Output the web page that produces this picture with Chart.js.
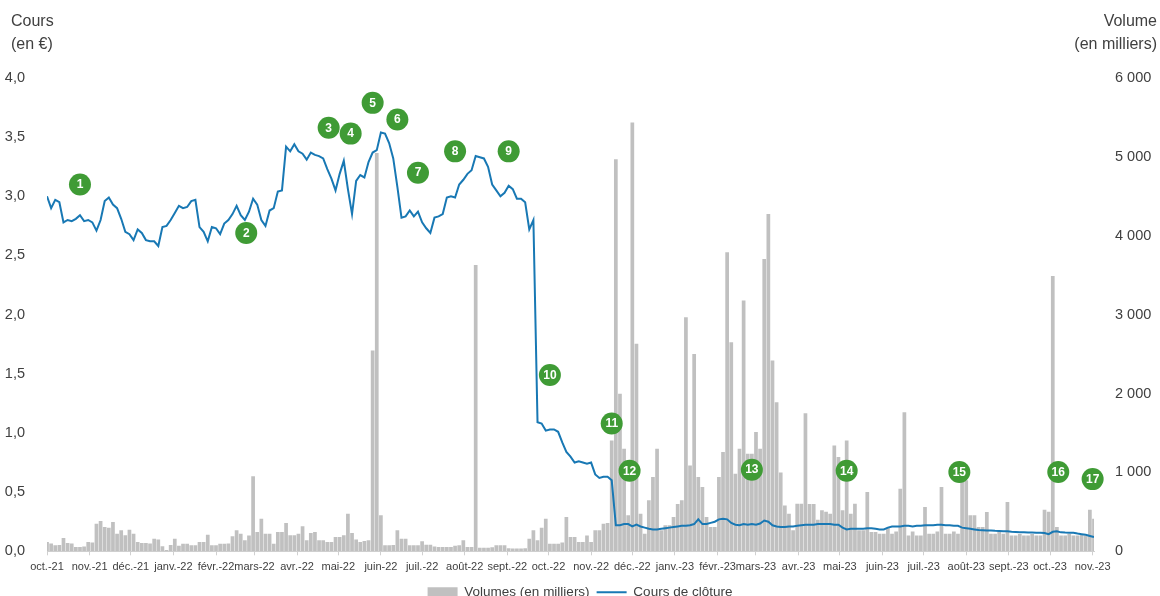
<!DOCTYPE html>
<html lang="fr">
<head>
<meta charset="utf-8">
<script src="https://cdn.jsdelivr.net/npm/chart.js@4.4.1/dist/chart.umd.min.js"></script>
<style>
  html, body { margin: 0; padding: 0; background: #fff; }
  #wrap { width: 1160px; height: 596px; }
</style>
</head>
<body>
<div id="wrap"><canvas id="coursChart" width="1160" height="596"></canvas></div>
<script>
/* =========================
   DATA
========================= */

// one sample every 3 calendar days, starting 1 Oct 2021
const stepDays = 3;

// cours de clôture (en €)
const closePrice = [
  3.00, 2.90, 2.97, 2.95, 2.78, 2.80, 2.79, 2.81, 2.84, 2.79,
  2.80, 2.78, 2.71, 2.80, 2.96, 2.99, 2.93, 2.90, 2.81, 2.70,
  2.68, 2.63, 2.72, 2.69, 2.63, 2.62, 2.62, 2.58, 2.74, 2.75,
  2.80, 2.86, 2.92, 2.90, 2.91, 2.96, 2.97, 2.74, 2.70, 2.62,
  2.74, 2.73, 2.68, 2.77, 2.80, 2.85, 2.92, 2.84, 2.80, 2.87,
  2.98, 2.93, 2.80, 2.75, 2.88, 2.90, 3.04, 3.05, 3.42, 3.38,
  3.44, 3.38, 3.36, 3.31, 3.37, 3.35, 3.34, 3.32, 3.23, 3.15,
  3.05, 3.19, 3.30, 3.06, 2.85, 3.13, 3.18, 3.16, 3.29, 3.37,
  3.39, 3.54, 3.53, 3.45, 3.32, 3.08, 2.82, 2.83, 2.88, 2.83,
  2.87, 2.78, 2.73, 2.69, 2.82, 2.83, 2.85, 2.99, 3.00, 2.99,
  3.10, 3.14, 3.19, 3.22, 3.34, 3.33, 3.32, 3.25, 3.10, 3.05,
  3.00, 3.03, 3.09, 3.06, 2.98, 2.98, 2.95, 2.72, 2.80, 1.09,
  1.08, 1.02, 1.03, 1.03, 1.01, 0.92, 0.84, 0.80, 0.75, 0.76,
  0.75, 0.74, 0.75, 0.65, 0.62, 0.63, 0.63, 0.60, 0.22, 0.22,
  0.23, 0.23, 0.21, 0.225, 0.21, 0.20, 0.19, 0.185, 0.185, 0.19,
  0.195, 0.20, 0.205, 0.21, 0.215, 0.215, 0.22, 0.23, 0.27, 0.23,
  0.23, 0.24, 0.25, 0.27, 0.275, 0.27, 0.24, 0.225, 0.22, 0.23,
  0.225, 0.23, 0.225, 0.235, 0.26, 0.25, 0.22, 0.21, 0.205, 0.205,
  0.21, 0.21, 0.215, 0.22, 0.225, 0.225, 0.225, 0.23, 0.23, 0.23,
  0.23, 0.225, 0.225, 0.20, 0.185, 0.19, 0.19, 0.19, 0.19, 0.195,
  0.195, 0.19, 0.185, 0.185, 0.20, 0.21, 0.21, 0.21, 0.215, 0.215,
  0.21, 0.215, 0.215, 0.22, 0.22, 0.22, 0.225, 0.225, 0.22, 0.22,
  0.215, 0.215, 0.20, 0.195, 0.19, 0.185, 0.18, 0.178, 0.176, 0.175,
  0.173, 0.172, 0.17, 0.17, 0.166, 0.163, 0.16, 0.16, 0.158, 0.158,
  0.157, 0.157, 0.155, 0.145, 0.165, 0.17, 0.16, 0.158, 0.157, 0.157,
  0.15, 0.145, 0.14, 0.13, 0.12
];

// volumes (en milliers)
const volumes = [
  118, 100, 76, 80, 169, 105, 100, 55, 55, 60,
  118, 110, 350, 384, 308, 300, 371, 224, 266, 203,
  274, 224, 118, 105, 105, 100, 160, 150, 63, 15,
  80, 160, 70, 97, 97, 76, 76, 118, 118, 211,
  76, 76, 97, 97, 100, 190, 266, 224, 139, 200,
  950, 245, 413, 224, 224, 97, 245, 245, 359, 203,
  203, 224, 316, 139, 232, 245, 139, 139, 118, 118,
  181, 181, 203, 477, 232, 150, 118, 130, 139, 2545,
  5050, 456, 76, 76, 80, 266, 160, 160, 76, 76,
  76, 127, 84, 84, 60, 55, 55, 55, 55, 70,
  76, 139, 55, 55, 3630, 46, 46, 46, 50, 76,
  76, 76, 40, 34, 34, 34, 40, 160, 266, 139,
  300, 413, 97, 97, 97, 110, 435, 180, 180, 118,
  118, 200, 118, 266, 266, 350, 359, 1405, 4970, 1996,
  1300, 456, 5435, 2630, 477, 224, 646, 941, 1300, 266,
  329, 329, 435, 600, 646, 2967, 1089, 2502, 941, 814,
  435, 308, 308, 941, 1258, 3790, 2650, 983, 1300, 3178,
  1236, 1236, 1511, 1300, 3705, 4275, 2418, 1890, 1000, 582,
  477, 266, 603, 603, 1750, 600, 600, 400, 520, 500,
  477, 1342, 1194, 520, 1405, 477, 603, 266, 266, 751,
  245, 245, 224, 224, 300, 224, 250, 793, 1764, 200,
  250, 200, 200, 561, 224, 224, 250, 814, 224, 224,
  250, 224, 900, 900, 456, 456, 308, 308, 498, 224,
  224, 250, 224, 625, 200, 200, 220, 200, 200, 220,
  200, 200, 528, 500, 3490, 308, 200, 200, 220, 200,
  200, 210, 200, 528, 414
];

// month ticks (days since 1 Oct 2021)
const monthDays = [0, 31, 61, 92, 123, 151, 182, 212, 243, 273, 304, 335, 365,
  396, 426, 457, 488, 516, 547, 577, 608, 638, 669, 700, 730, 761];
const monthLabels = ["oct.-21", "nov.-21", "déc.-21", "janv.-22", "févr.-22", "mars-22",
  "avr.-22", "mai-22", "juin-22", "juil.-22", "août-22", "sept.-22", "oct.-22",
  "nov.-22", "déc.-22", "janv.-23", "févr.-23", "mars-23", "avr.-23", "mai-23",
  "juin-23", "juil.-23", "août-23", "sept.-23", "oct.-23", "nov.-23"];

// numbered events: day and price level of each marker
const eventDays = [24, 145, 205, 221, 237, 255, 270, 297, 336, 366, 411, 424, 513, 582, 664, 736, 761];
const eventLevels = [3.10, 2.69, 3.58, 3.53, 3.79, 3.65, 3.20, 3.38, 3.38, 1.49, 1.08, 0.68, 0.69, 0.68, 0.67, 0.67, 0.61];

/* =========================
   CHART
========================= */

const fr = (v, d) => v.toFixed(d).replace(".", ",");
const thousands = v => String(v).replace(/\B(?=(\d{3})+(?!\d))/g, " ");
const textGrey = "#404040";
const baseFont = "'Liberation Sans', Arial, sans-serif";

const overlay = {
  id: "overlay",
  afterDatasetsDraw(chart) {
    const { ctx, scales } = chart;
    ctx.save();
    eventDays.forEach((d, i) => {
      const px = scales.x.getPixelForValue(d);
      const py = scales.y.getPixelForValue(eventLevels[i]);
      ctx.beginPath();
      ctx.arc(px, py, 11, 0, Math.PI * 2);
      ctx.fillStyle = "#3f9b35";
      ctx.fill();
      ctx.fillStyle = "#fff";
      ctx.font = "bold 12px " + baseFont;
      ctx.textAlign = "center";
      ctx.textBaseline = "middle";
      ctx.fillText(String(i + 1), px, py + 0.5);
    });
    ctx.fillStyle = textGrey;
    ctx.font = "16px " + baseFont;
    ctx.textBaseline = "middle";
    ctx.textAlign = "left";
    ctx.fillText("Cours", 11, 22);
    ctx.fillText("(en €)", 11, 45);
    ctx.textAlign = "right";
    ctx.fillText("Volume", chart.width - 3, 22);
    ctx.fillText("(en milliers)", chart.width - 3, 45);
    ctx.restore();
  }
};

new Chart(document.getElementById("coursChart"), {
  type: "bar",
  data: {
    datasets: [
      {
        type: "line",
        label: "Cours de clôture",
        data: closePrice.map((v, i) => ({ x: i * stepDays, y: v })),
        yAxisID: "y",
        borderColor: "#1878b4",
        backgroundColor: "#1878b4",
        borderWidth: 2,
        pointRadius: 0,
        pointStyle: "line",
        tension: 0
      },
      {
        type: "bar",
        label: "Volumes (en milliers)",
        data: volumes.map((v, i) => ({ x: i * stepDays, y: v })),
        yAxisID: "y1",
        backgroundColor: "#c0c0c0",
        borderWidth: 0,
        barPercentage: 0.9,
        categoryPercentage: 1,
        pointStyle: "rect"
      }
    ]
  },
  options: {
    responsive: false,
    animation: false,
    layout: { padding: { top: 78, bottom: -13, left: 0, right: 0 } },
    scales: {
      x: {
        type: "linear",
        min: 0,
        max: 762,
        offset: false,
        afterBuildTicks: s => { s.ticks = monthDays.map(v => ({ value: v })); },
        grid: { offset: false, drawOnChartArea: false, drawTicks: true, tickLength: 4, color: "#d0d0d0" },
        border: { color: "#d0d0d0" },
        ticks: {
          autoSkip: false,
          maxRotation: 0,
          padding: 5,
          color: textGrey,
          font: { size: 11, family: baseFont },
          callback: (v, i) => monthLabels[i]
        }
      },
      y: {
        position: "left",
        min: 0,
        max: 4,
        afterFit: s => { s.width = 47; },
        grid: { display: false },
        border: { display: false },
        ticks: {
          stepSize: 0.5,
          padding: 14,
          color: textGrey,
          font: { size: 14.5, family: baseFont },
          callback: v => fr(v, 1)
        }
      },
      y1: {
        position: "right",
        min: 0,
        max: 6000,
        afterFit: s => { s.width = 66; },
        grid: { display: false },
        border: { display: false },
        ticks: {
          stepSize: 1000,
          padding: 13,
          color: textGrey,
          font: { size: 14.5, family: baseFont },
          callback: v => thousands(v)
        }
      }
    },
    plugins: {
      tooltip: { enabled: false },
      legend: {
        position: "bottom",
        labels: {
          usePointStyle: true,
          pointStyleWidth: 30,
          boxHeight: 10,
          padding: 7,
          color: textGrey,
          font: { size: 13.5, family: baseFont },
          sort: (a, b) => b.datasetIndex - a.datasetIndex
        }
      }
    }
  },
  plugins: [overlay]
});
</script>
</body>
</html>
